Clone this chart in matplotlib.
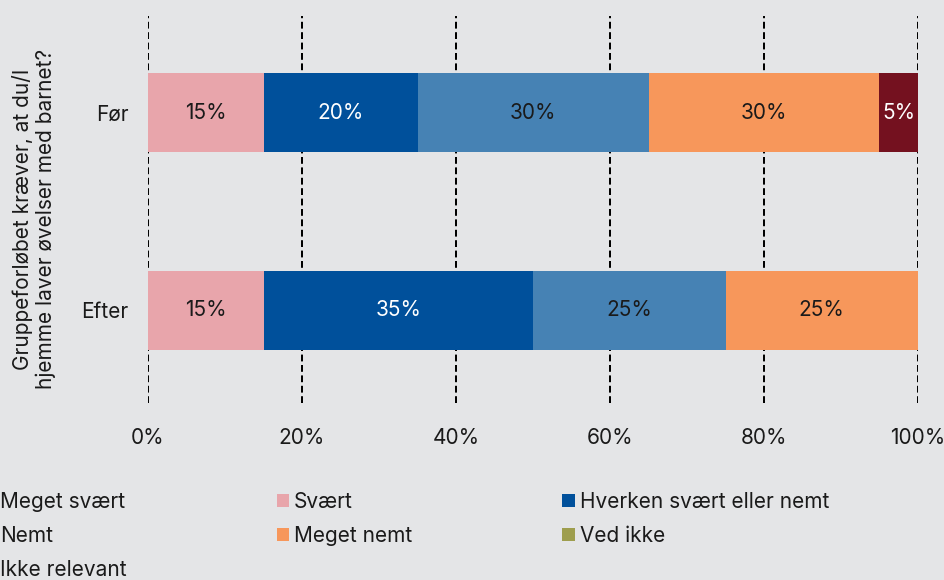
import matplotlib
matplotlib.use("Agg")
import matplotlib.pyplot as plt
from matplotlib.patches import Patch
import numpy as np

plt.rcParams['font.family'] = ['Inter', 'DejaVu Sans']

categories = ["Før", "Efter"]
series_names = ["Meget svært", "Svært", "Hverken svært eller nemt", "Nemt",
                "Meget nemt", "Ved ikke", "Ikke relevant"]
values = {
    "Meget svært": [0, 0],
    "Svært": [15, 15],
    "Hverken svært eller nemt": [20, 35],
    "Nemt": [30, 25],
    "Meget nemt": [30, 25],
    "Ved ikke": [0, 0],
    "Ikke relevant": [5, 0],
}
colors = {
    "Meget svært": "#b5323c",
    "Svært": "#e8a5ab",
    "Hverken svært eller nemt": "#00509b",
    "Nemt": "#4682b4",
    "Meget nemt": "#f7975b",
    "Ved ikke": "#9e9e4e",
    "Ikke relevant": "#74111f",
}
text_colors = {
    "Hverken svært eller nemt": "white",
    "Ikke relevant": "white",
    "Meget svært": "white",
}
xticks = [0, 20, 40, 60, 80, 100]
xtick_labels = ["0%", "20%", "40%", "60%", "80%", "100%"]
ylabel = "Gruppeforløbet kræver, at du/I\nhjemme laver øvelser med barnet?"

bg = "#e4e5e7"
W, H = 945, 580
fig = plt.figure(figsize=(W / 100, H / 100), dpi=100, facecolor=bg)
ax = fig.add_axes([148 / W, 1 - 403 / H, 770 / W, (403 - 16) / H])
ax.set_facecolor(bg)

y = np.arange(len(categories))
left = np.zeros(len(categories))
FS = 15
for name in series_names:
    vals = np.array(values[name], dtype=float)
    bars = ax.barh(y, vals, left=left, height=0.4, color=colors[name],
                   label=name, zorder=3)
    for rect, v in zip(bars, vals):
        if v > 0:
            ax.text(rect.get_x() + rect.get_width() / 2,
                    rect.get_y() + rect.get_height() / 2,
                    f"{v:.0f}%", ha="center", va="center", fontsize=FS,
                    color=text_colors.get(name, "#1a1a1a"), zorder=4)
    left += vals

ax.set_xlim(0, 100)
ax.set_ylim(1.47, -0.49)
ax.set_xticks(xticks)
ax.set_xticklabels(xtick_labels)
ax.set_yticks(y)
ax.set_yticklabels(categories)
ax.tick_params(axis="x", length=0, pad=18, labelsize=FS, colors="#1a1a1a")
ax.tick_params(axis="y", length=0, pad=14, labelsize=FS, colors="#1a1a1a")
for s in ax.spines.values():
    s.set_visible(False)
ax.xaxis.grid(True, color="black", linestyle=(0, (3.4, 1.8)), linewidth=1.44, zorder=0)
ax.set_axisbelow(True)

ax.set_ylabel(ylabel, fontsize=FS, color="#1a1a1a", linespacing=1.15)
ax.yaxis.set_label_coords(-0.119, 0.475)

order = ["Meget svært", "Nemt", "Ikke relevant", "Svært", "Meget nemt",
         "Hverken svært eller nemt", "Ved ikke"]
handles = [Patch(facecolor=colors[n], edgecolor="none") for n in order]
fig.legend(handles, order, loc="upper left", bbox_to_anchor=(-17 / W, 1 - 492 / H),
           ncol=3, frameon=False, fontsize=FS, borderpad=0, borderaxespad=0,
           handlelength=0.58, handleheight=0.58, handletextpad=0.25,
           labelspacing=0.68, columnspacing=7.2, labelcolor="#1a1a1a")

fig.savefig("out.png", dpi=100, facecolor=bg)
